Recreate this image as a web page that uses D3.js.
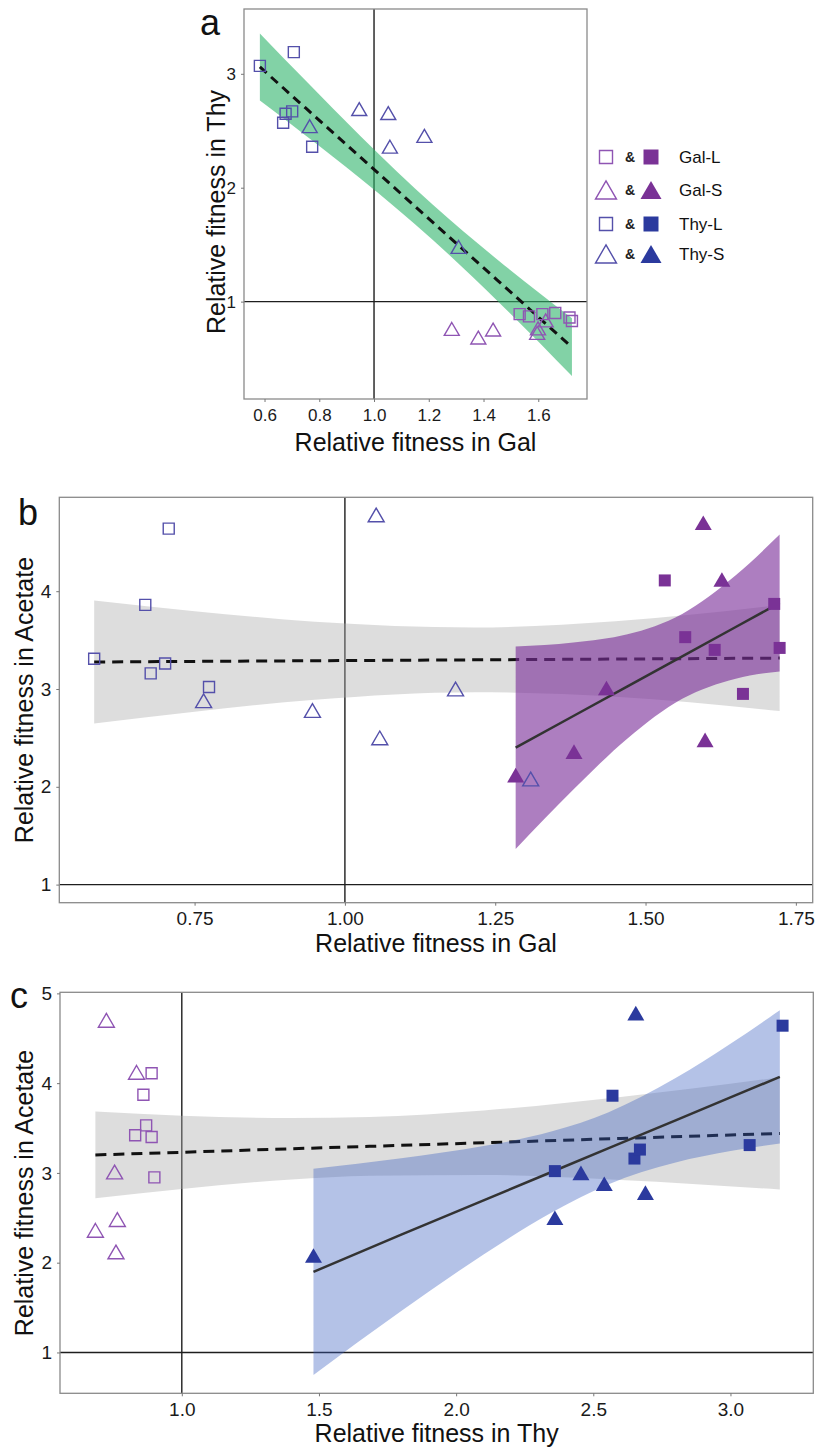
<!DOCTYPE html>
<html>
<head>
<meta charset="utf-8">
<script src="https://cdn.jsdelivr.net/npm/d3@7/dist/d3.min.js"></script>
<style>
  body { margin: 0; background: #fff; }
  svg text { font-family: "Liberation Sans", Arial, sans-serif; }
</style>
</head>
<body>
<svg id="fig" width="818" height="1448"></svg>
<script>
// ---- strain values (relative fitness in Gal / Thy / Acetate) ----
var galL_gal = [1.532, 1.566, 1.615, 1.662, 1.714, 1.723];
var galL_thy = [0.89, 0.87, 0.89, 0.90, 0.86, 0.83];
var galL_ace = [4.11, 3.53, 3.40, 2.95, 3.87, 3.42];

var galS_gal = [1.284, 1.381, 1.435, 1.596, 1.599, 1.627];
var galS_thy = [0.76, 0.685, 0.755, 0.725, 0.765, 0.835];
var galS_ace = [2.12, 2.36, 3.01, 4.70, 2.48, 4.12];

var thyL_gal = [0.583, 0.707, 0.668, 0.677, 0.701, 0.774];
var thyL_thy = [3.07, 3.19, 2.57, 2.65, 2.67, 2.36];
var thyL_ace = [3.31, 4.64, 3.86, 3.16, 3.26, 3.02];

var thyS_gal = [0.765, 0.946, 1.052, 1.058, 1.184, 1.309];
var thyS_thy = [2.54, 2.69, 2.655, 2.36, 2.455, 1.48];
var thyS_ace = [2.88, 2.78, 4.78, 2.50, 3.00, 2.08];

// ---- fitted lines + confidence bands ----
var aFitX   = [0.583, 0.75, 0.95, 1.215, 1.45, 1.723];
var aFitMid = [3.060, 2.700, 2.268, 1.696, 1.189, 0.600];
var aFitLo  = [2.765, 2.459, 2.081, 1.541, 1.008, 0.346];
var aFitHi  = [3.355, 2.941, 2.455, 1.851, 1.370, 0.854];

var bAllX   = [0.583, 0.75, 0.95, 1.215, 1.45, 1.723];
var bAllMid = [3.276, 3.282, 3.289, 3.298, 3.306, 3.316];
var bAllLo  = [2.648, 2.768, 2.890, 2.967, 2.920, 2.774];
var bAllHi  = [3.904, 3.796, 3.688, 3.629, 3.692, 3.858];

var bGalX   = [1.284, 1.38, 1.47, 1.561, 1.65, 1.723];
var bGalMid = [2.400, 2.724, 3.027, 3.334, 3.634, 3.880];
var bGalLo  = [1.365, 1.972, 2.495, 2.900, 3.106, 3.180];
var bGalHi  = [3.435, 3.476, 3.559, 3.768, 4.162, 4.580];

var cAllX   = [0.685, 1.0, 1.4, 1.684, 2.1, 2.6, 3.18];
var cAllMid = [3.200, 3.230, 3.269, 3.296, 3.336, 3.384, 3.440];
var cAllLo  = [2.717, 2.822, 2.927, 2.969, 2.977, 2.922, 2.815];
var cAllHi  = [3.683, 3.638, 3.611, 3.623, 3.695, 3.846, 4.065];

var cThyX   = [1.48, 1.8, 2.1, 2.35, 2.554, 2.8, 3.0, 3.18];
var cThyMid = [1.898, 2.313, 2.695, 3.013, 3.273, 3.586, 3.841, 4.070];
var cThyLo  = [0.750, 1.462, 2.091, 2.563, 2.872, 3.116, 3.243, 3.329];
var cThyHi  = [3.046, 3.164, 3.299, 3.463, 3.674, 4.056, 4.439, 4.811];

// ---- ticks ----
var aXTicks = [0.6, 0.8, 1.0, 1.2, 1.4, 1.6];
var aYTicks = [1, 2, 3];
var bXTicks = [0.75, 1.00, 1.25, 1.50, 1.75];
var bYTicks = [1, 2, 3, 4];
var cXTicks = [1.0, 1.5, 2.0, 2.5, 3.0];
var cYTicks = [1, 2, 3, 4, 5];

var legendLabels = ["Gal-L", "Gal-S", "Thy-L", "Thy-S"];

// colours
var galOpen = "#8f55b3", galFill = "#7a3296";
var thyOpen = "#5450aa", thyFill = "#2b3a9e";

var svg = d3.select("#fig");

function sqPath(s) {
  return "M" + (-s/2) + "," + (-s/2) + "h" + s + "v" + s + "h" + (-s) + "Z";
}
function triPath(w) {
  var h = w * 0.86;
  return "M0," + (-h/2) + "L" + (w/2) + "," + (h/2) + "L" + (-w/2) + "," + (h/2) + "Z";
}

function panel(p) {
  var g = svg.append("g");
  var x = d3.scaleLinear().domain(p.xDom).range([p.left, p.right]);
  var y = d3.scaleLinear().domain(p.yDom).range([p.bottom, p.top]);

  // reference lines at fitness = 1
  g.append("line").attr("x1", x(1)).attr("x2", x(1)).attr("y1", p.top).attr("y2", p.bottom)
    .attr("stroke", "#1e1e1e").attr("stroke-width", 1.4);
  g.append("line").attr("x1", p.left).attr("x2", p.right).attr("y1", y(1)).attr("y2", y(1))
    .attr("stroke", "#1e1e1e").attr("stroke-width", 1.4);

  // smooths
  p.fits.forEach(function(f) {
    var pts = f.x.map(function(v, i) { return {x: v, lo: f.lo[i], hi: f.hi[i], mid: f.mid[i]}; });
    g.append("path").datum(pts)
      .attr("d", d3.area().curve(d3.curveMonotoneX)
        .x(function(d) { return x(d.x); })
        .y0(function(d) { return y(d.lo); })
        .y1(function(d) { return y(d.hi); }))
      .attr("fill", f.fill).attr("fill-opacity", f.opacity);
    g.append("path").datum(pts)
      .attr("d", d3.line().x(function(d) { return x(d.x); }).y(function(d) { return y(d.mid); }))
      .attr("fill", "none")
      .attr("stroke", f.stroke)
      .attr("stroke-width", f.width)
      .attr("stroke-dasharray", f.dash || null);
  });

  // points
  p.points.forEach(function(s) {
    var pts = s.xs.map(function(v, i) { return {x: v, y: s.ys[i]}; });
    g.selectAll(null).data(pts).enter().append("path")
      .attr("transform", function(d) { return "translate(" + x(d.x) + "," + y(d.y) + ")"; })
      .attr("d", s.shape == "sq" ? sqPath(s.size) : triPath(s.size))
      .attr("fill", s.filled ? s.color : "none")
      .attr("stroke", s.color)
      .attr("stroke-width", s.filled ? 0 : 1.4);
  });

  // frame
  g.append("rect").attr("x", p.left).attr("y", p.top)
    .attr("width", p.right - p.left).attr("height", p.bottom - p.top)
    .attr("fill", "none").attr("stroke", "#8a8a8a").attr("stroke-width", 1.3);

  var xa = g.append("g").attr("transform", "translate(0," + p.bottom + ")")
    .call(d3.axisBottom(x).tickValues(p.xTicks).tickFormat(d3.format(p.xFmt)).tickSize(3).tickPadding(p.xPad));
  var ya = g.append("g").attr("transform", "translate(" + p.left + ",0)")
    .call(d3.axisLeft(y).tickValues(p.yTicks).tickFormat(d3.format("d")).tickSize(3).tickPadding(5));
  [xa, ya].forEach(function(a) {
    a.select(".domain").remove();
    a.selectAll(".tick line").attr("stroke", "#777");
    a.selectAll(".tick text").attr("font-size", p.tickFont).attr("fill", "#1a1a1a")
      .style("font-family", "'Liberation Sans', Arial, sans-serif");
  });

  g.append("text").attr("x", (p.left + p.right) / 2).attr("y", p.bottom + p.xTitleGap)
    .attr("text-anchor", "middle").attr("font-size", 25).attr("fill", "#111").text(p.xTitle);
  g.append("text")
    .attr("transform", "translate(" + p.yTitleX + "," + p.yTitleY + ") rotate(-90)")
    .attr("text-anchor", "middle").attr("font-size", 25).attr("fill", "#111").text(p.yTitle);
  g.append("text").attr("x", p.tagX).attr("y", p.tagY)
    .attr("font-size", 36).attr("fill", "#111").text(p.tag);
}

// ---- panel a : Thy vs Gal ----
panel({
  left: 244, right: 587, top: 9, bottom: 399,
  xDom: [0.525, 1.778], yDom: [0.145, 3.569],
  xTicks: aXTicks, yTicks: aYTicks, xFmt: ".1f", xPad: 7, tickFont: 17,
  xTitle: "Relative fitness in Gal", yTitle: "Relative fitness in Thy",
  xTitleGap: 52, yTitleX: 225, yTitleY: 212, tag: "a", tagX: 200, tagY: 35,
  fits: [
    {x: aFitX, mid: aFitMid, lo: aFitLo, hi: aFitHi, fill: "#2fb46a", opacity: 0.6,
     stroke: "#111", width: 3, dash: "9,6"}
  ],
  points: [
    {xs: galL_gal, ys: galL_thy, shape: "sq", size: 11, filled: false, color: galOpen},
    {xs: galS_gal, ys: galS_thy, shape: "tri", size: 15, filled: false, color: galOpen},
    {xs: thyL_gal, ys: thyL_thy, shape: "sq", size: 11, filled: false, color: thyOpen},
    {xs: thyS_gal, ys: thyS_thy, shape: "tri", size: 15, filled: false, color: thyOpen}
  ]
});

// ---- panel b : Acetate vs Gal ----
panel({
  left: 59.3, right: 812.7, top: 497.3, bottom: 902.7,
  xDom: [0.525, 1.778], yDom: [0.815, 4.96],
  xTicks: bXTicks, yTicks: bYTicks, xFmt: ".2f", xPad: 6, tickFont: 19,
  xTitle: "Relative fitness in Gal", yTitle: "Relative fitness in Acetate",
  xTitleGap: 49, yTitleX: 33, yTitleY: 700, tag: "b", tagX: 18, tagY: 525,
  fits: [
    {x: bAllX, mid: bAllMid, lo: bAllLo, hi: bAllHi, fill: "#aaaaaa", opacity: 0.4,
     stroke: "#111", width: 3, dash: "11,7"},
    {x: bGalX, mid: bGalMid, lo: bGalLo, hi: bGalHi, fill: "#7b2f9a", opacity: 0.62,
     stroke: "#333", width: 2.5}
  ],
  points: [
    {xs: thyL_gal, ys: thyL_ace, shape: "sq", size: 11, filled: false, color: thyOpen},
    {xs: thyS_gal, ys: thyS_ace, shape: "tri", size: 16, filled: false, color: thyOpen},
    {xs: galL_gal, ys: galL_ace, shape: "sq", size: 12, filled: true, color: galFill},
    {xs: galS_gal, ys: galS_ace, shape: "tri", size: 17, filled: true, color: galFill}
  ]
});

// ---- panel c : Acetate vs Thy ----
panel({
  left: 60, right: 813.3, top: 992.3, bottom: 1393.3,
  xDom: [0.556, 3.302], yDom: [0.545, 5.012],
  xTicks: cXTicks, yTicks: cYTicks, xFmt: ".1f", xPad: 6, tickFont: 19,
  xTitle: "Relative fitness in Thy", yTitle: "Relative fitness in Acetate",
  xTitleGap: 49, yTitleX: 33, yTitleY: 1193, tag: "c", tagX: 10, tagY: 1008,
  fits: [
    {x: cAllX, mid: cAllMid, lo: cAllLo, hi: cAllHi, fill: "#aaaaaa", opacity: 0.4,
     stroke: "#111", width: 3, dash: "11,7"},
    {x: cThyX, mid: cThyMid, lo: cThyLo, hi: cThyHi, fill: "#3a5fc0", opacity: 0.38,
     stroke: "#333", width: 2.5}
  ],
  points: [
    {xs: galL_thy, ys: galL_ace, shape: "sq", size: 11, filled: false, color: galOpen},
    {xs: galS_thy, ys: galS_ace, shape: "tri", size: 16, filled: false, color: galOpen},
    {xs: thyL_thy, ys: thyL_ace, shape: "sq", size: 12, filled: true, color: thyFill},
    {xs: thyS_thy, ys: thyS_ace, shape: "tri", size: 17, filled: true, color: thyFill}
  ]
});

// ---- legend (to the right of panel a) ----
var legRows = [157, 190, 224, 254];
var legShapes = ["sq", "tri", "sq", "tri"];
var legOpen = [galOpen, galOpen, thyOpen, thyOpen];
var legFill = [galFill, galFill, thyFill, thyFill];
var leg = svg.append("g");
legendLabels.forEach(function(lab, i) {
  var yy = legRows[i];
  var isSq = legShapes[i] == "sq";
  leg.append("path").attr("transform", "translate(606," + yy + ")").attr("d", isSq ? sqPath(13) : triPath(21))
    .attr("fill", "none").attr("stroke", legOpen[i]).attr("stroke-width", 1.4);
  leg.append("text").attr("x", 630).attr("y", yy + 5).attr("text-anchor", "middle")
    .attr("font-size", 14).attr("font-weight", "bold").attr("fill", "#222").text("&");
  leg.append("path").attr("transform", "translate(651," + yy + ")").attr("d", isSq ? sqPath(15) : triPath(21))
    .attr("fill", legFill[i]);
  leg.append("text").attr("x", 679).attr("y", yy + 6)
    .attr("font-size", 17).attr("fill", "#111").text(lab);
});
</script>
</body>
</html>
